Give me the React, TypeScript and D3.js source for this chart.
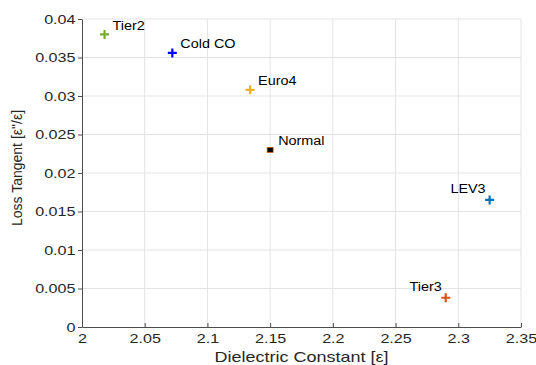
import React, { useEffect, useRef } from "react";
import * as d3 from "d3";

const names = ["Tier2", "Cold CO", "Euro4", "Normal", "LEV3", "Tier3"];
const dielectric = [2.018, 2.072, 2.134, 2.15, 2.325, 2.29];
const lossTangent = [0.038, 0.0356, 0.0308, 0.023, 0.0165, 0.0038];
const colors = ["#77AC30", "#0000FF", "#EDB120", "#000000", "#0072BD", "#D95319"];
const xTicks = [2, 2.05, 2.1, 2.15, 2.2, 2.25, 2.3, 2.35];
const yTicks = [0, 0.005, 0.01, 0.015, 0.02, 0.025, 0.03, 0.035, 0.04];

const WIDTH = 536;
const HEIGHT = 365;
const M = { left: 82, right: 15, top: 19, bottom: 38 };
const STRETCH = 1.24; // the picture is a bit wider than tall

// widen horizontal text like in the reference
function stretch(sel: d3.Selection<any, any, any, any>, k: number) {
  sel.each(function () {
    const t = this as SVGTextElement;
    const w = t.getComputedTextLength();
    t.setAttribute("textLength", String(w * k));
    t.setAttribute("lengthAdjust", "spacingAndGlyphs");
  });
}

export default function App() {
  const ref = useRef<SVGSVGElement>(null);

  useEffect(() => {
    if (!ref.current) return;
    const svg = d3.select(ref.current);
    svg.selectAll("*").remove();

    const x = d3.scaleLinear().domain([2, 2.35]).range([M.left, WIDTH - M.right]);
    const y = d3.scaleLinear().domain([0, 0.04]).range([HEIGHT - M.bottom, M.top]);
    const font = "Liberation Sans, Arial, sans-serif";

    // grid
    const grid = svg.append("g").attr("stroke", "#e3e3e3").attr("stroke-width", 1);
    xTicks.slice(1).forEach((t) => {
      grid.append("line")
        .attr("x1", x(t)).attr("x2", x(t))
        .attr("y1", y(0)).attr("y2", y(0.04));
    });
    yTicks.slice(1).forEach((t) => {
      grid.append("line")
        .attr("x1", x(2)).attr("x2", x(2.35))
        .attr("y1", y(t)).attr("y2", y(t));
    });

    // axes
    const xAxis = svg.append("g")
      .attr("transform", `translate(0,${y(0)})`)
      .call(d3.axisBottom(x).tickValues(xTicks).tickFormat(d3.format("")).tickSizeInner(-4).tickSizeOuter(0).tickPadding(7));
    const yAxis = svg.append("g")
      .attr("transform", `translate(${x(2)},0)`)
      .call(d3.axisLeft(y).tickValues(yTicks).tickFormat(d3.format("")).tickSizeInner(4).tickSizeOuter(0).tickPadding(2.5));
    [xAxis, yAxis].forEach((a) => {
      a.select(".domain").attr("stroke", "#4d4d4d");
      a.selectAll(".tick line").attr("stroke", "#4d4d4d");
      a.selectAll("text").attr("fill", "#262626").attr("font-family", font).attr("font-size", 13);
    });
    stretch(xAxis.selectAll("text"), STRETCH);
    stretch(yAxis.selectAll("text"), STRETCH);

    // axis labels
    const xl = svg.append("text")
      .attr("x", (x(2) + x(2.35)) / 2).attr("y", 362)
      .attr("text-anchor", "middle").attr("font-family", font).attr("font-size", 14.5)
      .attr("fill", "#262626").text("Dielectric Constant [ε]");
    stretch(xl, STRETCH);
    svg.append("text")
      .attr("transform", `translate(22,${(y(0) + y(0.04)) / 2 - 5}) rotate(-90)`)
      .attr("text-anchor", "middle").attr("font-family", font).attr("font-size", 14)
      .attr("fill", "#262626").text("Loss Tangent [ε\"/ε]");

    // points
    const labelRight = [true, true, true, true, false, false];
    names.forEach((name, i) => {
      const px = x(dielectric[i]);
      const py = y(lossTangent[i]);
      if (name === "Normal") {
        svg.append("rect")
          .attr("x", px - 3).attr("y", py - 2.5).attr("width", 6).attr("height", 5)
          .attr("fill", "#000").attr("stroke", "#D95319").attr("stroke-width", 0.7);
      } else {
        const s = 4.5;
        svg.append("path")
          .attr("d", `M${px - s},${py}H${px + s}M${px},${py - s}V${py + s}`)
          .attr("stroke", colors[i]).attr("stroke-width", 2.2).attr("fill", "none");
      }
      const lbl = svg.append("text")
        .attr("x", labelRight[i] ? px + 8 : px - 4)
        .attr("y", labelRight[i] ? py - 4.5 : py - 6.5)
        .attr("text-anchor", labelRight[i] ? "start" : "end")
        .attr("font-family", font).attr("font-size", 12)
        .attr("fill", "#000").text(name);
      stretch(lbl, 1.2);
    });
  }, []);

  return (
    <svg ref={ref} width={WIDTH} height={HEIGHT}
      style={{ position: "absolute", left: 0, top: 0, background: "#fff" }} />
  );
}
